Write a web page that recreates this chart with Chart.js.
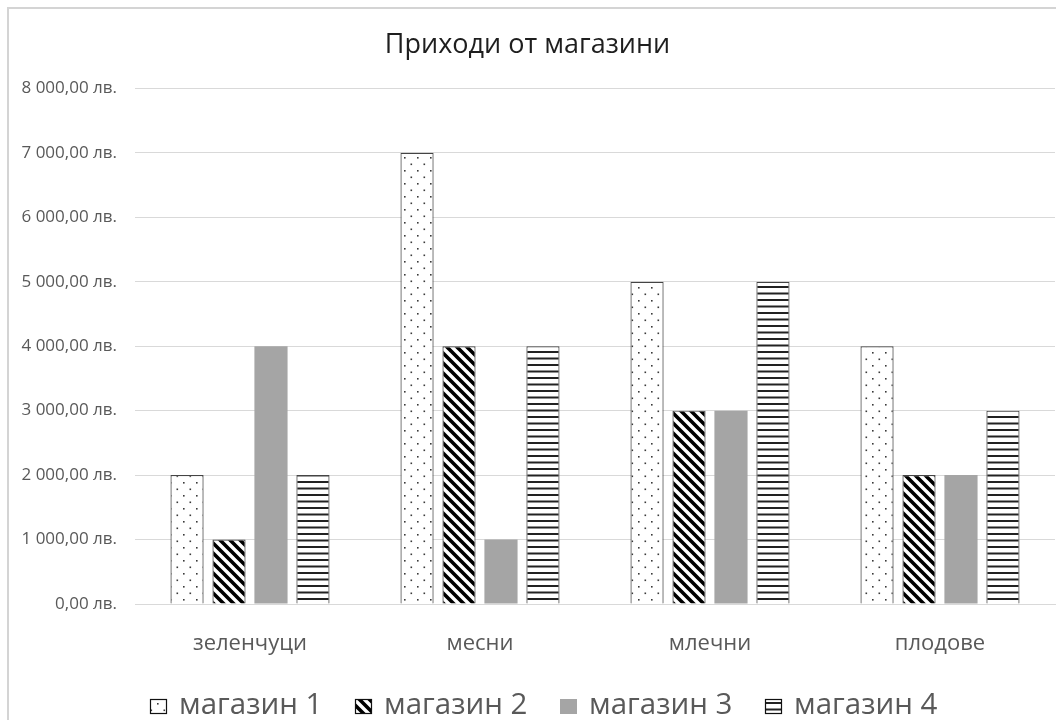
<!DOCTYPE html>
<html>
<head>
<meta charset="utf-8">
<script src="https://cdn.jsdelivr.net/npm/chart.js@4"></script>
<style>
html,body{margin:0;padding:0;background:#fff;}
#wrap{position:absolute;left:0;top:0;width:1056px;height:720px;}
</style>
</head>
<body>
<div id="wrap"><canvas id="c" width="1056" height="720"></canvas></div>
<script>
const categories = ['зеленчуци', 'месни', 'млечни', 'плодове'];
const seriesNames = ['магазин 1', 'магазин 2', 'магазин 3', 'магазин 4'];
const store1 = [2000, 7000, 5000, 4000];
const store2 = [1000, 4000, 3000, 2000];
const store3 = [4000, 1000, 3000, 2000];
const store4 = [2000, 4000, 5000, 3000];
const yTickLabels = ['0,00 лв.', '1 000,00 лв.', '2 000,00 лв.', '3 000,00 лв.', '4 000,00 лв.', '5 000,00 лв.', '6 000,00 лв.', '7 000,00 лв.', '8 000,00 лв.'];
const chartTitle = 'Приходи от магазини';

function makeTile(w, h, draw) {
  const cv = document.createElement('canvas');
  cv.width = w; cv.height = h;
  const g = cv.getContext('2d');
  g.fillStyle = '#ffffff';
  g.fillRect(0, 0, w, h);
  draw(g, w, h);
  return document.getElementById('c').getContext('2d').createPattern(cv, 'repeat');
}
const dots = makeTile(13, 13, (g) => {
  g.fillStyle = '#3a3a3a';
  g.fillRect(1, 1, 1.6, 1.6);
  g.fillRect(7.5, 7.5, 1.6, 1.6);
});
const diag = makeTile(10, 10, (g, w, h) => {
  g.strokeStyle = '#000000';
  g.lineWidth = 3.6;
  g.beginPath();
  for (let k = -1; k <= 1; k++) {
    g.moveTo(k * w - 2, -2);
    g.lineTo(k * w + w + 2, h + 2);
  }
  g.stroke();
});
const hlines = makeTile(13, 13, (g) => {
  g.fillStyle = '#222222';
  g.fillRect(0, 0, 13, 2);
  g.fillRect(0, 6.5, 13, 2);
});
const gray = '#a5a5a5';
const fams = '"Open Sans", "Noto Sans", sans-serif';

const frame = {
  id: 'frame',
  beforeDraw(chart) {
    const c = chart.ctx;
    c.save();
    c.fillStyle = '#ffffff';
    c.fillRect(0, 0, chart.width, chart.height);
    c.strokeStyle = '#d4d4d4';
    c.lineWidth = 2;
    c.beginPath();
    c.moveTo(8, 720);
    c.lineTo(8, 8);
    c.lineTo(1056, 8);
    c.stroke();
    c.restore();
  }
};

const customLegend = {
  id: 'customLegend',
  afterDraw(chart) {
    const c = chart.ctx;
    c.save();
    c.font = '29.5px ' + fams;
    c.textBaseline = 'middle';
    c.textAlign = 'left';
    let x = 150;
    const cy = 706;
    chart.data.datasets.forEach((d, i) => {
      const bw = 17, bh = 15;
      const by = Math.round(cy - bh / 2);
      c.fillStyle = d.backgroundColor;
      c.fillRect(x, by, bw, bh);
      if (i !== 2) {
        c.strokeStyle = '#111111';
        c.lineWidth = 1.2;
        c.strokeRect(x + 0.5, by + 0.5, bw - 1, bh - 1);
      }
      c.fillStyle = '#595959';
      const tx = x + 29;
      c.fillText(d.label, tx, cy);
      x = Math.round(tx + c.measureText(d.label).width + 33);
    });
    c.restore();
  }
};

new Chart(document.getElementById('c'), {
  type: 'bar',
  data: {
    labels: categories,
    datasets: [
      { label: seriesNames[0], data: store1, backgroundColor: dots, borderColor: '#444444', borderWidth: 1.2 },
      { label: seriesNames[1], data: store2, backgroundColor: diag, borderColor: '#444444', borderWidth: 1.2 },
      { label: seriesNames[2], data: store3, backgroundColor: gray, borderColor: gray, borderWidth: 0 },
      { label: seriesNames[3], data: store4, backgroundColor: hlines, borderColor: '#444444', borderWidth: 1.2 }
    ]
  },
  options: {
    responsive: false,
    animation: false,
    devicePixelRatio: 1,
    layout: { padding: { left: 0, right: 1, top: 0, bottom: 44 } },
    datasets: { bar: { categoryPercentage: 0.73, barPercentage: 0.79 } },
    plugins: {
      title: {
        display: true,
        text: chartTitle,
        color: '#1e1e1e',
        font: { family: fams, size: 27, weight: 'normal' },
        padding: { top: 29, bottom: 27 }
      },
      legend: { display: false },
      tooltip: { enabled: false }
    },
    scales: {
      x: {
        grid: { display: false },
        border: { display: true, color: '#d9d9d9', width: 1 },
        ticks: { color: '#595959', font: { family: fams, size: 22 }, padding: 19 },
        afterFit(s) { s.height = 72; }
      },
      y: {
        min: 0,
        max: 8000,
        grid: { color: '#d9d9d9', lineWidth: 1, drawTicks: false },
        border: { display: false },
        ticks: {
          stepSize: 1000,
          color: '#595959',
          font: { family: fams, size: 17 },
          padding: 18,
          callback(v, i) { return yTickLabels[Math.round(v / 1000)]; }
        },
        afterFit(s) { s.width = 135; }
      }
    }
  },
  plugins: [frame, customLegend]
});
</script>
</body>
</html>
